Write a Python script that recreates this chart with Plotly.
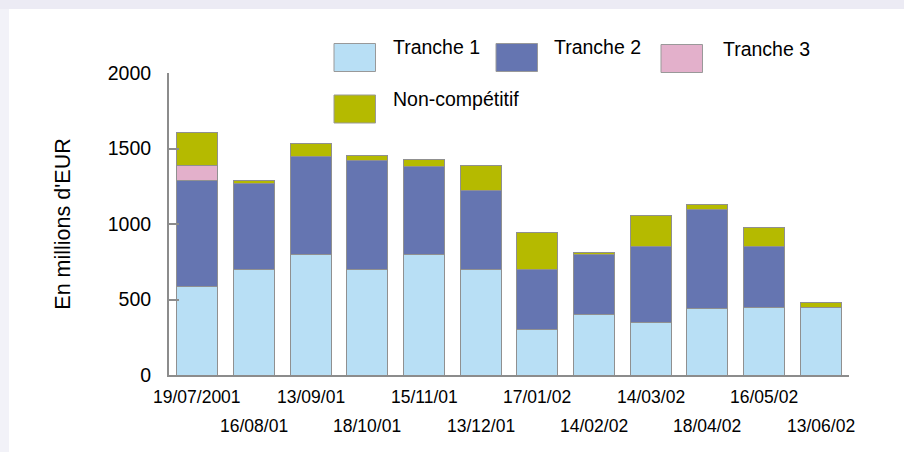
import plotly.graph_objects as go

categories = ["19/07/2001", "16/08/01", "13/09/01", "18/10/01", "15/11/01", "13/12/01",
              "17/01/02", "14/02/02", "14/03/02", "18/04/02", "16/05/02", "13/06/02"]
tranche1 = [585, 700, 800, 700, 800, 700, 300, 400, 350, 440, 445, 445]
tranche2 = [705, 570, 650, 720, 580, 520, 400, 400, 500, 655, 405, 0]
tranche3 = [100, 0, 0, 0, 0, 0, 0, 0, 0, 0, 0, 0]
non_comp = [218, 15, 80, 35, 50, 165, 245, 10, 205, 35, 130, 35]

series_names = ["Tranche 1", "Tranche 2", "Tranche 3", "Non-compétitif"]
series_values = [tranche1, tranche2, tranche3, non_comp]
series_colors = ["#B8DFF5", "#6575B1", "#E3B0CB", "#B5BA00"]
y_ticks = [0, 500, 1000, 1500, 2000]

FONT = "Liberation Sans, Arial, sans-serif"
GREY = "#8C8C8C"

fig = go.Figure()
for name, vals, col in zip(series_names, series_values, series_colors):
    fig.add_trace(go.Bar(x=categories, y=vals, name=name, marker_color=col,
                         marker_line_color="#909090", marker_line_width=1,
                         showlegend=False))

# plot area in pixels
L, R, T, B = 169, 849, 73, 375
W, H = R - L, B - T
def px(x):
    return (x - L) / W
def py(y):
    return (B - y) / H

shapes = [
    dict(type="rect", xref="paper", yref="paper", x0=px(0), x1=px(904), y0=py(0), y1=py(9),
         fillcolor="#ECEBF4", line_width=0, layer="below"),
    dict(type="rect", xref="paper", yref="paper", x0=px(0), x1=px(9), y0=py(9), y1=py(452),
         fillcolor="#F2F2F8", line_width=0, layer="below"),
]
annotations = []

# legend (custom, boxes and labels)
legend_pos = [(334, 43.5, 391), (496, 43.5, 552), (661, 44.5, 721), (334, 95, 391)]
for (bx, by, tx), name, col in zip(legend_pos, series_names, series_colors):
    shapes.append(dict(type="rect", xref="paper", yref="paper",
                       x0=px(bx), x1=px(bx + 41.5), y0=py(by + 28), y1=py(by),
                       fillcolor=col, line=dict(color="#999999", width=1)))
    annotations.append(dict(xref="paper", yref="paper", x=px(tx), y=py(by + 4),
                            text=name, showarrow=False, xanchor="left", yanchor="middle",
                            font=dict(family=FONT, size=19.5, color="black")))

# staggered category labels
for i, c in enumerate(categories):
    annotations.append(dict(xref="x", yref="paper", x=c, y=0, text=c, showarrow=False,
                            xanchor="center", yanchor="middle",
                            yshift=-22 if i % 2 == 0 else -51,
                            font=dict(family=FONT, size=17.5, color="black")))

fig.update_layout(
    width=904, height=452,
    margin=dict(l=L, r=904 - R, t=T, b=452 - B, autoexpand=False),
    paper_bgcolor="white", plot_bgcolor="rgba(0,0,0,0)",
    barmode="stack", bargap=0.277,
    font=dict(family=FONT, color="black"),
    shapes=shapes, annotations=annotations,
)
fig.update_xaxes(type="category", range=[-0.5, 11.5], showticklabels=False, ticks="",
                 showline=True, linecolor=GREY, linewidth=2, showgrid=False, zeroline=False)
fig.update_yaxes(range=[0, 2000], tickvals=y_ticks, ticks="inside", ticklen=10,
                 tickcolor=GREY, tickwidth=2, showline=True, linecolor=GREY, linewidth=2,
                 showgrid=False, zeroline=False, ticklabelstandoff=12,
                 tickfont=dict(family=FONT, size=19.5, color="black"),
                 title=dict(text="En millions d'EUR", standoff=31,
                            font=dict(family=FONT, size=21.5, color="black")))

fig.write_html("out.html", config={"displayModeBar": False},
               post_script="document.body.style.margin='0';document.body.style.overflow='hidden';")
